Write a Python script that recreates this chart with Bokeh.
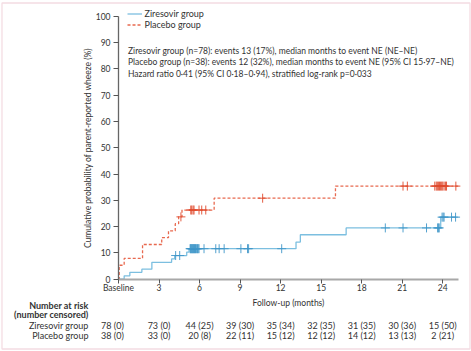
import numpy as np
from bokeh.plotting import figure
from bokeh.models import FixedTicker, Label, Legend, LegendItem, BoxAnnotation, Range1d
from bokeh.embed import file_html
from bokeh.resources import INLINE

# ---------------- data ----------------
ziresovir_t = [0, 0.42, 0.84, 1.73, 2.47, 3.93, 4.16, 5.05, 5.22, 13.14, 13.46, 16.85, 23.85, 25.15]
ziresovir_p = [0, 1.3, 2.6, 3.8, 6.4, 7.7, 9.0, 10.3, 11.6, 14.1, 16.9, 19.5, 23.6, 23.6]
placebo_t = [0, 0.05, 0.42, 1.78, 3.2, 3.7, 4.2, 4.45, 4.7, 7.08, 16.06, 25.15]
placebo_p = [0, 5.3, 7.9, 13.2, 15.8, 18.4, 21.1, 23.7, 26.3, 30.8, 35.4, 35.4]

ziresovir_censor_t = [4.23, 4.53, 5.30, 5.34, 5.38, 5.42, 5.46, 5.50, 5.54, 5.58, 5.62, 5.66,
                      5.70, 5.75, 5.80, 5.85, 5.90, 5.96, 6.33, 7.20, 7.45, 7.82, 9.06, 9.55,
                      9.63, 12.08, 19.75, 21.06, 22.80, 23.62, 23.68, 23.74, 23.95, 24.03,
                      24.10, 24.65, 24.95]
placebo_censor_t = [4.62, 5.35, 5.42, 5.52, 5.59, 5.96, 6.16, 6.46, 10.67, 21.06, 21.38,
                    23.41, 23.52, 23.60, 23.68, 23.76, 23.84, 23.92, 24.00, 24.10, 24.20,
                    24.28, 24.97]

risk_times = [0, 3, 6, 9, 12, 15, 18, 21, 24]
tick_labels = {0: "Baseline"}
zir_at_risk = [78, 73, 44, 39, 35, 32, 31, 30, 15]
zir_censored = [0, 0, 25, 30, 34, 35, 35, 36, 50]
pla_at_risk = [38, 33, 20, 22, 15, 12, 14, 13, 2]
pla_censored = [0, 0, 8, 11, 12, 12, 12, 13, 21]

summary_lines = [
    "Ziresovir group (n=78): events 13 (17%), median months to event NE (NE\u2013NE)",
    "Placebo group (n=38): events 12 (32%), median months to event NE (95% CI 15\u00b797\u2013NE)",
    "Hazard ratio 0\u00b741 (95% CI 0\u00b718\u20130\u00b794), stratified log-rank p=0\u00b7033",
]

# ---------------- style ----------------
FONT = "Lato"
FS = "9px"
FS_SMALL = "8.5px"
TXT = "#333333"
BLUE = "#7cbfe0"
BLUE_DARK = "#3f96c8"
RED = "#e8694f"
RED_DARK = "#e04a2c"


def level_at(ts, ps, t):
    i = np.searchsorted(np.array(ts), t, side="right") - 1
    return ps[max(i, 0)]


# frame covers the whole canvas; axes are pinned at 0 with bounds
PX_PER_MONTH = 13.51
PX_PER_PCT = 2.63
X0, Y0 = 118.0, 278.7   # canvas position of (0, 0)
W, H = 471, 351
p = figure(width=W, height=H,
           x_range=Range1d(-X0 / PX_PER_MONTH, (W - X0) / PX_PER_MONTH),
           y_range=Range1d(-(H - Y0) / PX_PER_PCT, Y0 / PX_PER_PCT),
           output_backend="svg", toolbar_location=None,
           min_border_left=0, min_border_right=0, min_border_top=0, min_border_bottom=0)
p.title.visible = False
p.xgrid.visible = False
p.ygrid.visible = False
p.outline_line_color = None
p.background_fill_color = "white"
p.border_fill_color = "white"

# curves
r_z = p.step(ziresovir_t, ziresovir_p, mode="after", line_color=BLUE, line_width=1.3)
r_p = p.step(placebo_t, placebo_p, mode="after", line_color=RED, line_width=1.3, line_dash="3 2")

zc_y = [level_at(ziresovir_t, ziresovir_p, t) for t in ziresovir_censor_t]
pc_y = [level_at(placebo_t, placebo_p, t) for t in placebo_censor_t]
p.scatter(ziresovir_censor_t, zc_y, marker="cross", size=9, line_color=BLUE_DARK, line_width=0.9)
p.scatter(placebo_censor_t, pc_y, marker="cross", size=9, line_color=RED_DARK, line_width=0.9)

# axes
for ax in (p.xaxis[0], p.yaxis[0]):
    ax.fixed_location = 0
    ax.major_label_text_font = FONT
    ax.major_label_text_font_size = FS_SMALL
    ax.major_label_text_color = TXT
    ax.axis_label_text_font = FONT
    ax.axis_label_text_font_size = FS_SMALL
    ax.axis_label_text_font_style = "normal"
    ax.axis_label_text_color = TXT
    ax.major_tick_in = 0
    ax.minor_tick_line_color = None
    ax.major_tick_line_color = "#555555"

p.yaxis.ticker = FixedTicker(ticks=list(range(0, 101, 10)))
p.yaxis.bounds = (0, 100)
p.yaxis.major_tick_out = 5
p.yaxis.major_label_standoff = 3
p.yaxis.axis_line_color = "#666666"
p.yaxis.axis_line_width = 1.3
p.yaxis.axis_label = "Cumulative probability of parent-reported wheeze (%)"
p.yaxis.axis_label_standoff = 0

p.xaxis.ticker = FixedTicker(ticks=risk_times)
p.xaxis.bounds = (0, 25.15)
p.xaxis.major_tick_out = 4
p.xaxis.major_label_standoff = 0
p.xaxis.major_label_overrides = tick_labels
p.xaxis.axis_line_color = "#a8a8a8"
p.xaxis.axis_line_width = 2
p.xaxis.axis_label = "Follow-up (months)"
p.xaxis.axis_label_standoff = 1

# legend
legend = Legend(items=[LegendItem(label="Ziresovir group", renderers=[r_z]),
                       LegendItem(label="Placebo group", renderers=[r_p])],
                location=(126.5, H - 30), padding=0, margin=0, spacing=0,
                glyph_width=15, glyph_height=11, label_height=11, label_standoff=3,
                label_text_font=FONT, label_text_font_size=FS, label_text_color=TXT,
                border_line_color=None, background_fill_alpha=0)
p.add_layout(legend, "center")

# summary text (screen units from the frame's bottom-left = canvas bottom-left)
for i, line in enumerate(summary_lines):
    p.add_layout(Label(x=127.5, y=H - 50 - 11.7 * i, x_units="screen", y_units="screen",
                       text=line, text_font=FONT, text_font_size=FS_SMALL, text_color=TXT,
                       text_baseline="middle", text_align="left"))

# number at risk table
for txt, yy in (("Number at risk", 305), ("(number censored)", 314.3)):
    p.add_layout(Label(x=88, y=H - yy, x_units="screen", y_units="screen", text=txt,
                       text_font=FONT, text_font_size=FS, text_font_style="bold",
                       text_color=TXT, text_baseline="middle", text_align="right"))
for name, yy, ar, ce in (("Ziresovir group", 325, zir_at_risk, zir_censored),
                         ("Placebo group", 334.5, pla_at_risk, pla_censored)):
    p.add_layout(Label(x=88, y=H - yy, x_units="screen", y_units="screen", text=name,
                       text_font=FONT, text_font_size=FS, text_color=TXT,
                       text_baseline="middle", text_align="right"))
    for t, a, c in zip(risk_times, ar, ce):
        xo = -0.45 if t == 0 else 0
        p.add_layout(Label(x=t + xo, y=H - yy, y_units="screen", text=f"{a} ({c})",
                           text_font=FONT, text_font_size=FS, text_color=TXT,
                           text_baseline="middle", text_align="center"))

# page border
p.add_layout(BoxAnnotation(left=1.5, right=469.5, top=2.5, bottom=348.5,
                           left_units="canvas", right_units="canvas",
                           top_units="canvas", bottom_units="canvas",
                           fill_alpha=0, line_color="#d98ca2", line_width=1.3))

open("out.html", "w").write(file_html(p, INLINE))
